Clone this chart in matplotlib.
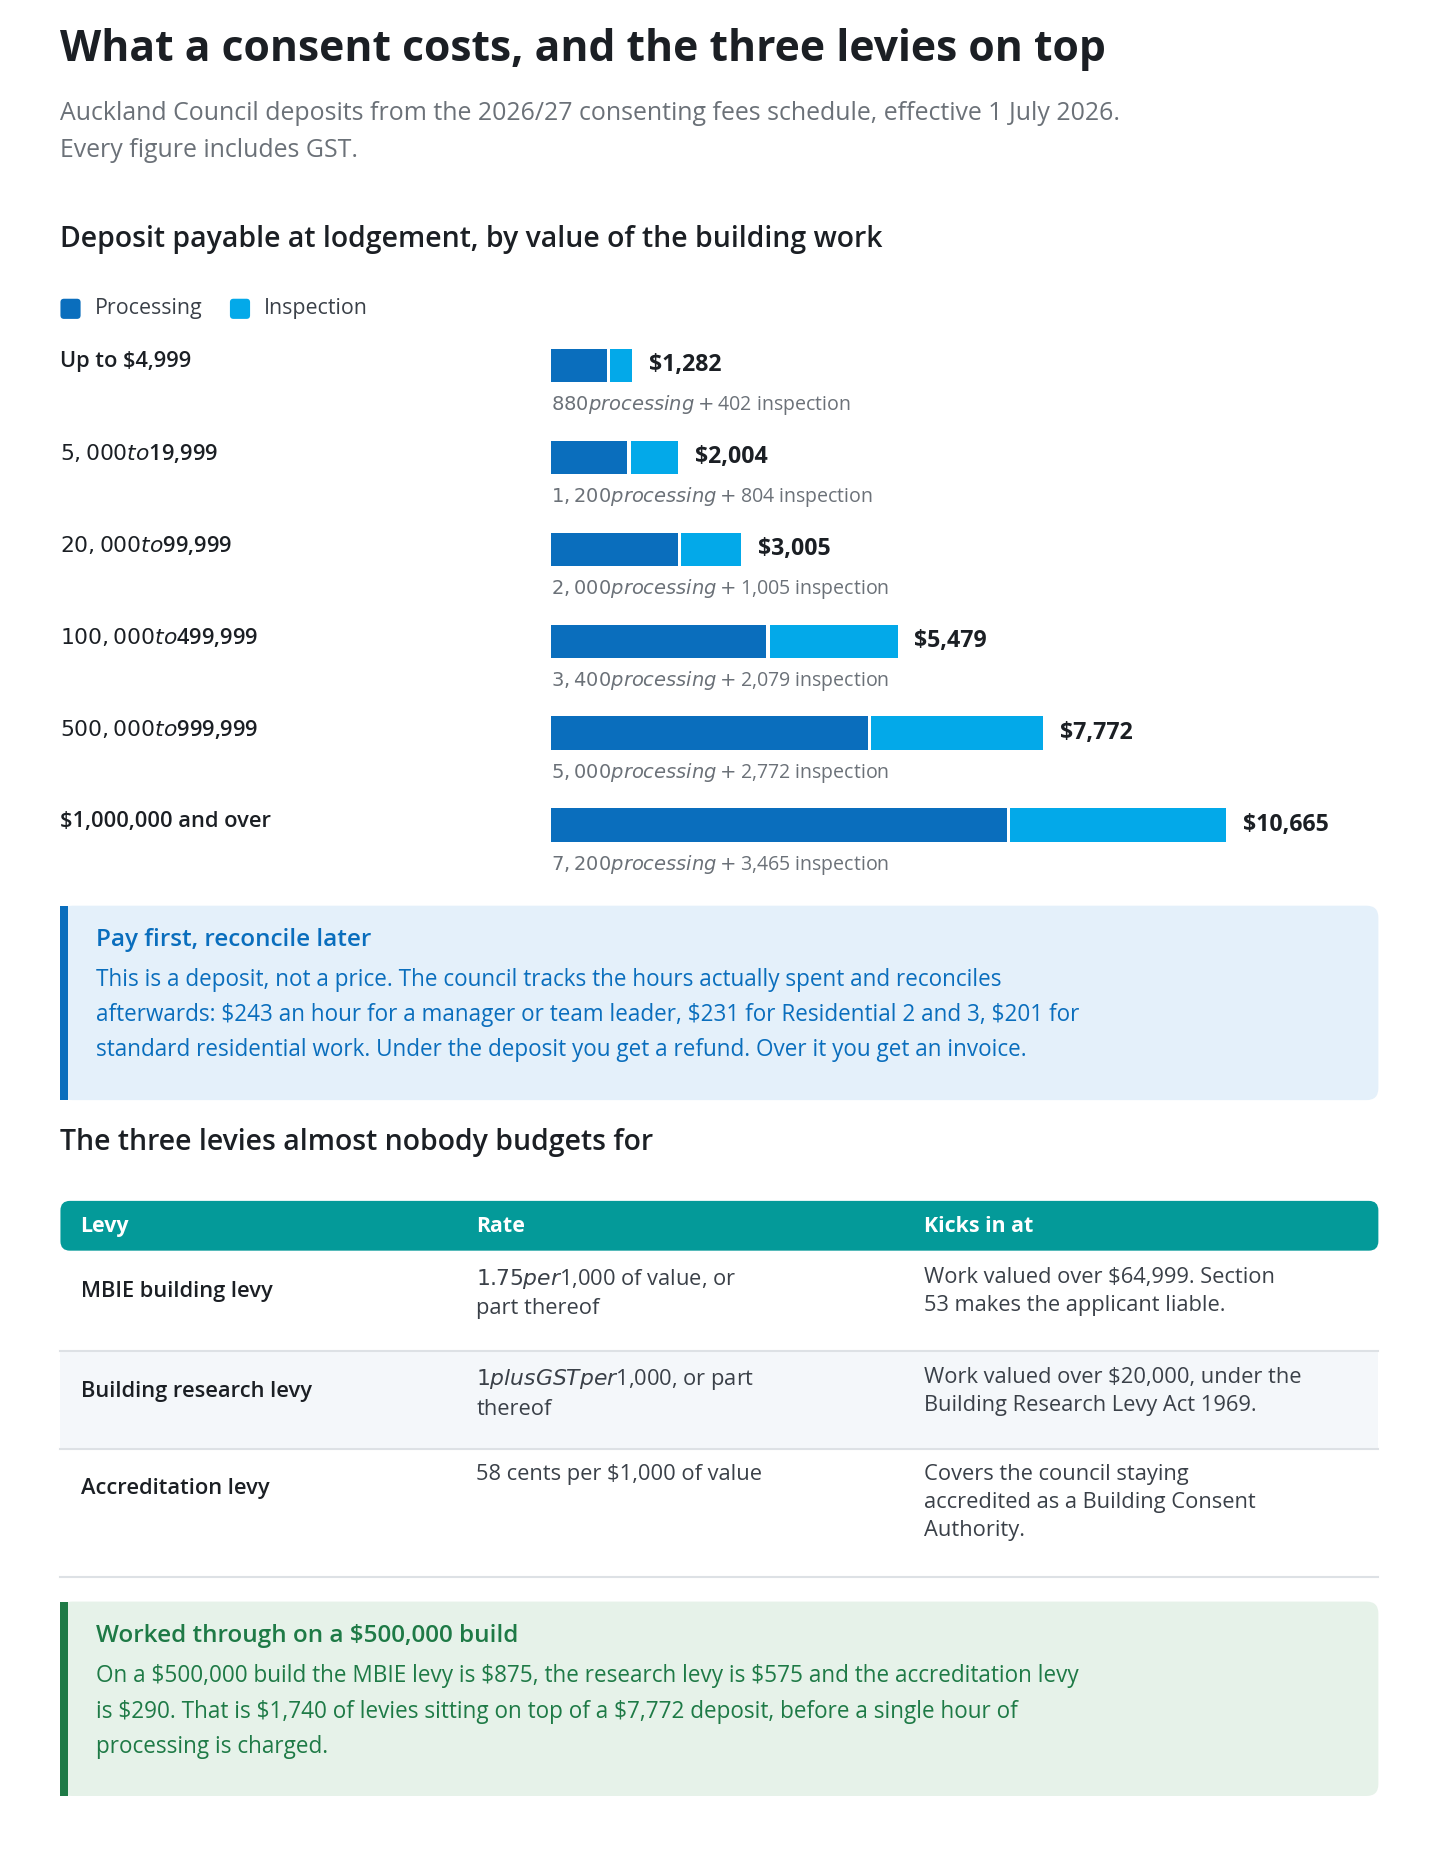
import matplotlib
matplotlib.use("Agg")
import matplotlib.pyplot as plt
from matplotlib.patches import FancyBboxPatch, Rectangle

# Datos
bands = ["Up to $4,999", "$5,000 to $19,999", "$20,000 to $99,999",
         "$100,000 to $499,999", "$500,000 to $999,999", "$1,000,000 and over"]
processing = [880, 1200, 2000, 3400, 5000, 7200]
inspection = [402, 804, 1005, 2079, 2772, 3465]

levy_names = ["MBIE building levy", "Building research levy", "Accreditation levy"]
levy_rates = ["$1.75 per $1,000 of value, or\npart thereof",
              "$1 plus GST per $1,000, or part\nthereof",
              "58 cents per $1,000 of value"]
levy_when = ["Work valued over $64,999. Section\n53 makes the applicant liable.",
             "Work valued over $20,000, under the\nBuilding Research Levy Act 1969.",
             "Covers the council staying\naccredited as a Building Consent\nAuthority."]

W, H = 1215, 1569          # coordenadas de maqueta
S = 1440 / W
C_PROC, C_INSP = "#0a6ebd", "#03a9e9"
DARK, GREY = "#1b1f24", "#6b7178"

plt.rcParams["font.family"] = ["Open Sans", "DejaVu Sans"]


def fs(px):
    return px * S * 0.72


fig = plt.figure(figsize=(14.4, 18.6), dpi=100)
ax = fig.add_axes([0, 0, 1, 1])
ax.set_xlim(0, W); ax.set_ylim(H, 0); ax.axis("off")

ax.text(51, 42, "What a consent costs, and the three levies on top", fontsize=fs(36),
        weight="bold", color=DARK, va="center")
ax.text(51, 96, "Auckland Council deposits from the 2026/27 consenting fees schedule, effective 1 July 2026.",
        fontsize=fs(21), color=GREY, va="center")
ax.text(51, 127, "Every figure includes GST.", fontsize=fs(21), color=GREY, va="center")
ax.text(51, 202, "Deposit payable at lodgement, by value of the building work", fontsize=fs(24),
        weight="semibold", color=DARK, va="center")

# leyenda
for x, c, lab in [(51, C_PROC, "Processing"), (194, C_INSP, "Inspection")]:
    ax.add_patch(FancyBboxPatch((x, 252), 17, 17, boxstyle="round,pad=0,rounding_size=3",
                                fc=c, ec="none"))
    ax.text(x + 29, 260, lab, fontsize=fs(18), color="#3a4048", va="center")

# barras en un eje en dolares
px_per_dollar = 0.0534
bx = fig.add_axes([0, 0, 1, 1])
bx.set_xlim(-465 / px_per_dollar, (W - 465) / px_per_dollar)
bx.set_ylim(H, 0); bx.axis("off")
gap = 3 / px_per_dollar
for i, (b, p, q) in enumerate(zip(bands, processing, inspection)):
    yc = 308 + i * 77.6
    bx.text(-414 / px_per_dollar, yc - 3, b, fontsize=fs(18.5), weight="semibold",
            color=DARK, va="center")
    bx.barh(yc, p, height=28, left=0, color=C_PROC)
    bx.barh(yc, q - gap, height=28, left=p + gap, color=C_INSP)
    bx.text(p + q + 14 / px_per_dollar, yc, f"${p + q:,}", fontsize=fs(19.5),
            weight="bold", color=DARK, va="center")
    bx.text(0, yc + 34, f"${p:,} processing + ${q:,} inspection", fontsize=fs(16.5),
            color=GREY, va="center")

# recuadro azul
ax.add_patch(FancyBboxPatch((51, 764), 1112, 164, boxstyle="round,pad=0,rounding_size=10",
                            fc="#e4f0fa", ec="none"))
ax.add_patch(Rectangle((51, 764), 6, 164, fc=C_PROC, ec="none"))
ax.text(81, 793, "Pay first, reconcile later", fontsize=fs(20.5), weight="semibold",
        color=C_PROC, va="center")
for k, line in enumerate([
        "This is a deposit, not a price. The council tracks the hours actually spent and reconciles",
        "afterwards: $243 an hour for a manager or team leader, $231 for Residential 2 and 3, $201 for",
        "standard residential work. Under the deposit you get a refund. Over it you get an invoice."]):
    ax.text(81, 827 + k * 29.5, line, fontsize=fs(19), color=C_PROC, va="center")

ax.text(51, 964, "The three levies almost nobody budgets for", fontsize=fs(24),
        weight="semibold", color=DARK, va="center")

# tabla
cols = [68, 402, 780]
ax.add_patch(FancyBboxPatch((51, 1013), 1112, 42, boxstyle="round,pad=0,rounding_size=8",
                            fc="#049a99", ec="none"))
for x, h in zip(cols, ["Levy", "Rate", "Kicks in at"]):
    ax.text(x, 1035, h, fontsize=fs(18), weight="bold", color="white", va="center")
row_top = [1056, 1140, 1222]
row_bot = [1140, 1222, 1330]
for i in range(3):
    if i == 1:
        ax.add_patch(Rectangle((51, row_top[i]), 1112, row_bot[i] - row_top[i],
                               fc="#f4f7fa", ec="none"))
    ax.plot([51, 1163], [row_bot[i], row_bot[i]], color="#dde1e5", lw=1.5)
    y0 = row_top[i] + 25
    ax.text(cols[0], y0, levy_names[i], fontsize=fs(18.5), weight="semibold", color=DARK,
            va="top", linespacing=1.5)
    ax.text(cols[1], y0 - 12, levy_rates[i], fontsize=fs(18.5), color="#3a4048",
            va="top", linespacing=1.45)
    ax.text(cols[2], y0 - 12, levy_when[i], fontsize=fs(18.5), color="#3a4048",
            va="top", linespacing=1.45)

# recuadro verde
ax.add_patch(FancyBboxPatch((51, 1351), 1112, 164, boxstyle="round,pad=0,rounding_size=10",
                            fc="#e6f2e9", ec="none"))
ax.add_patch(Rectangle((51, 1351), 6, 164, fc="#1e7a46", ec="none"))
ax.text(81, 1380, "Worked through on a $500,000 build", fontsize=fs(20.5), weight="semibold",
        color="#1e7a46", va="center")
for k, line in enumerate([
        "On a $500,000 build the MBIE levy is $875, the research levy is $575 and the accreditation levy",
        "is $290. That is $1,740 of levies sitting on top of a $7,772 deposit, before a single hour of",
        "processing is charged."]):
    ax.text(81, 1414 + k * 30, line, fontsize=fs(19), color="#1e7a46", va="center")

fig.savefig("out.png", dpi=100)
